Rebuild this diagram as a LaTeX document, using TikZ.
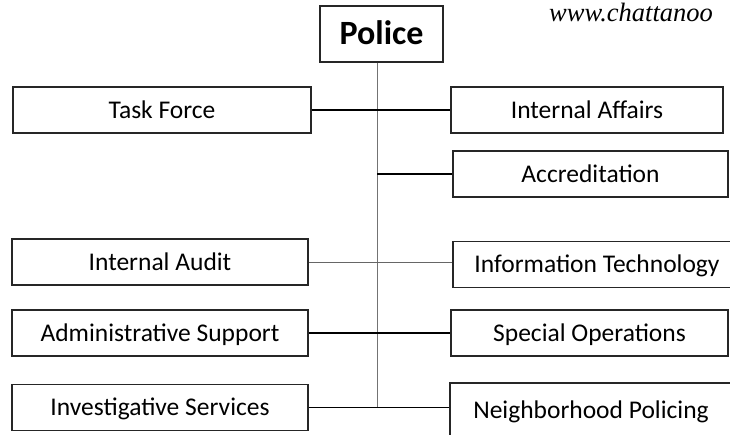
\documentclass[tikz,border=0pt]{standalone}
\usepackage{fontspec}
\setmainfont{Carlito}
\newfontfamily\urlfont{Liberation Serif}
\usetikzlibrary{positioning}
\tikzset{
  unit/.style   = {rectangle, draw=black!85, line width=1.3pt, minimum height=46pt, inner sep=0,
                   text height=16.4pt, text depth=0pt, font=\fontsize{25.5}{30}\selectfont},
  chief/.style  = {unit, minimum width=123pt, minimum height=56pt, text height=21.9pt,
                   font=\fontsize{34}{40}\selectfont\bfseries},
  branch/.style = {line width=1.6pt},
  faint/.style  = {line width=0.9pt, black!60},
  spine/.style  = {line width=1pt, black!55},
  url/.style    = {anchor=base west, inner sep=0, text height=18pt, text depth=0pt,
                   font=\urlfont\itshape\fontsize{26.5}{30}\selectfont}
}
\begin{document}
\begin{tikzpicture}[x=1pt,y=-1pt]
  \useasboundingbox (0,0) rectangle (730,435);
  % head and web address
  \node[chief] (pol) at (381.5,34) {Police};
  \node[url]   (web) at (549,21.5) {www.chattanoo};
  % left column
  \node[unit, minimum width=298pt] (tf)  at (162,110)   {Task Force};
  \node[unit, minimum width=296pt] (iau) at (160,262)   {Internal Audit};
  \node[unit, minimum width=296pt] (as)  at (160,333)   {Administrative Support};
  \node[unit, minimum width=296pt] (is)  at (160,407.5) {Investigative Services};
  % right column
  \node[unit, minimum width=272pt] (iaf) at (587,110)   {Internal Affairs};
  \node[unit, minimum width=275pt] (ac)  at (590.5,174) {Accreditation};
  \node[unit, minimum width=288pt] (it)  at (597,264.5) {Information Technology};
  \node[unit, minimum width=277pt] (so)  at (589.5,333) {Special Operations};
  \node[unit, minimum width=282pt, minimum height=54pt] (np) at (591,410) {Neighborhood Policing};
  % connectors
  \coordinate (stem) at ([xshift=-4.5pt]pol.south);
  \draw[spine]  (stem) -- (stem |- is.east);
  \draw[branch] (tf.east) -- (tf.east -| iaf.west);
  \draw[branch] (stem |- ac.west) -- (ac.west);
  \draw[faint]  (iau.east) -- (iau.east -| it.west);
  \draw[branch] (as.east) -- (as.east -| so.west);
  \draw[branch] (is.east) -- (is.east -| np.west);
\end{tikzpicture}
\end{document}
